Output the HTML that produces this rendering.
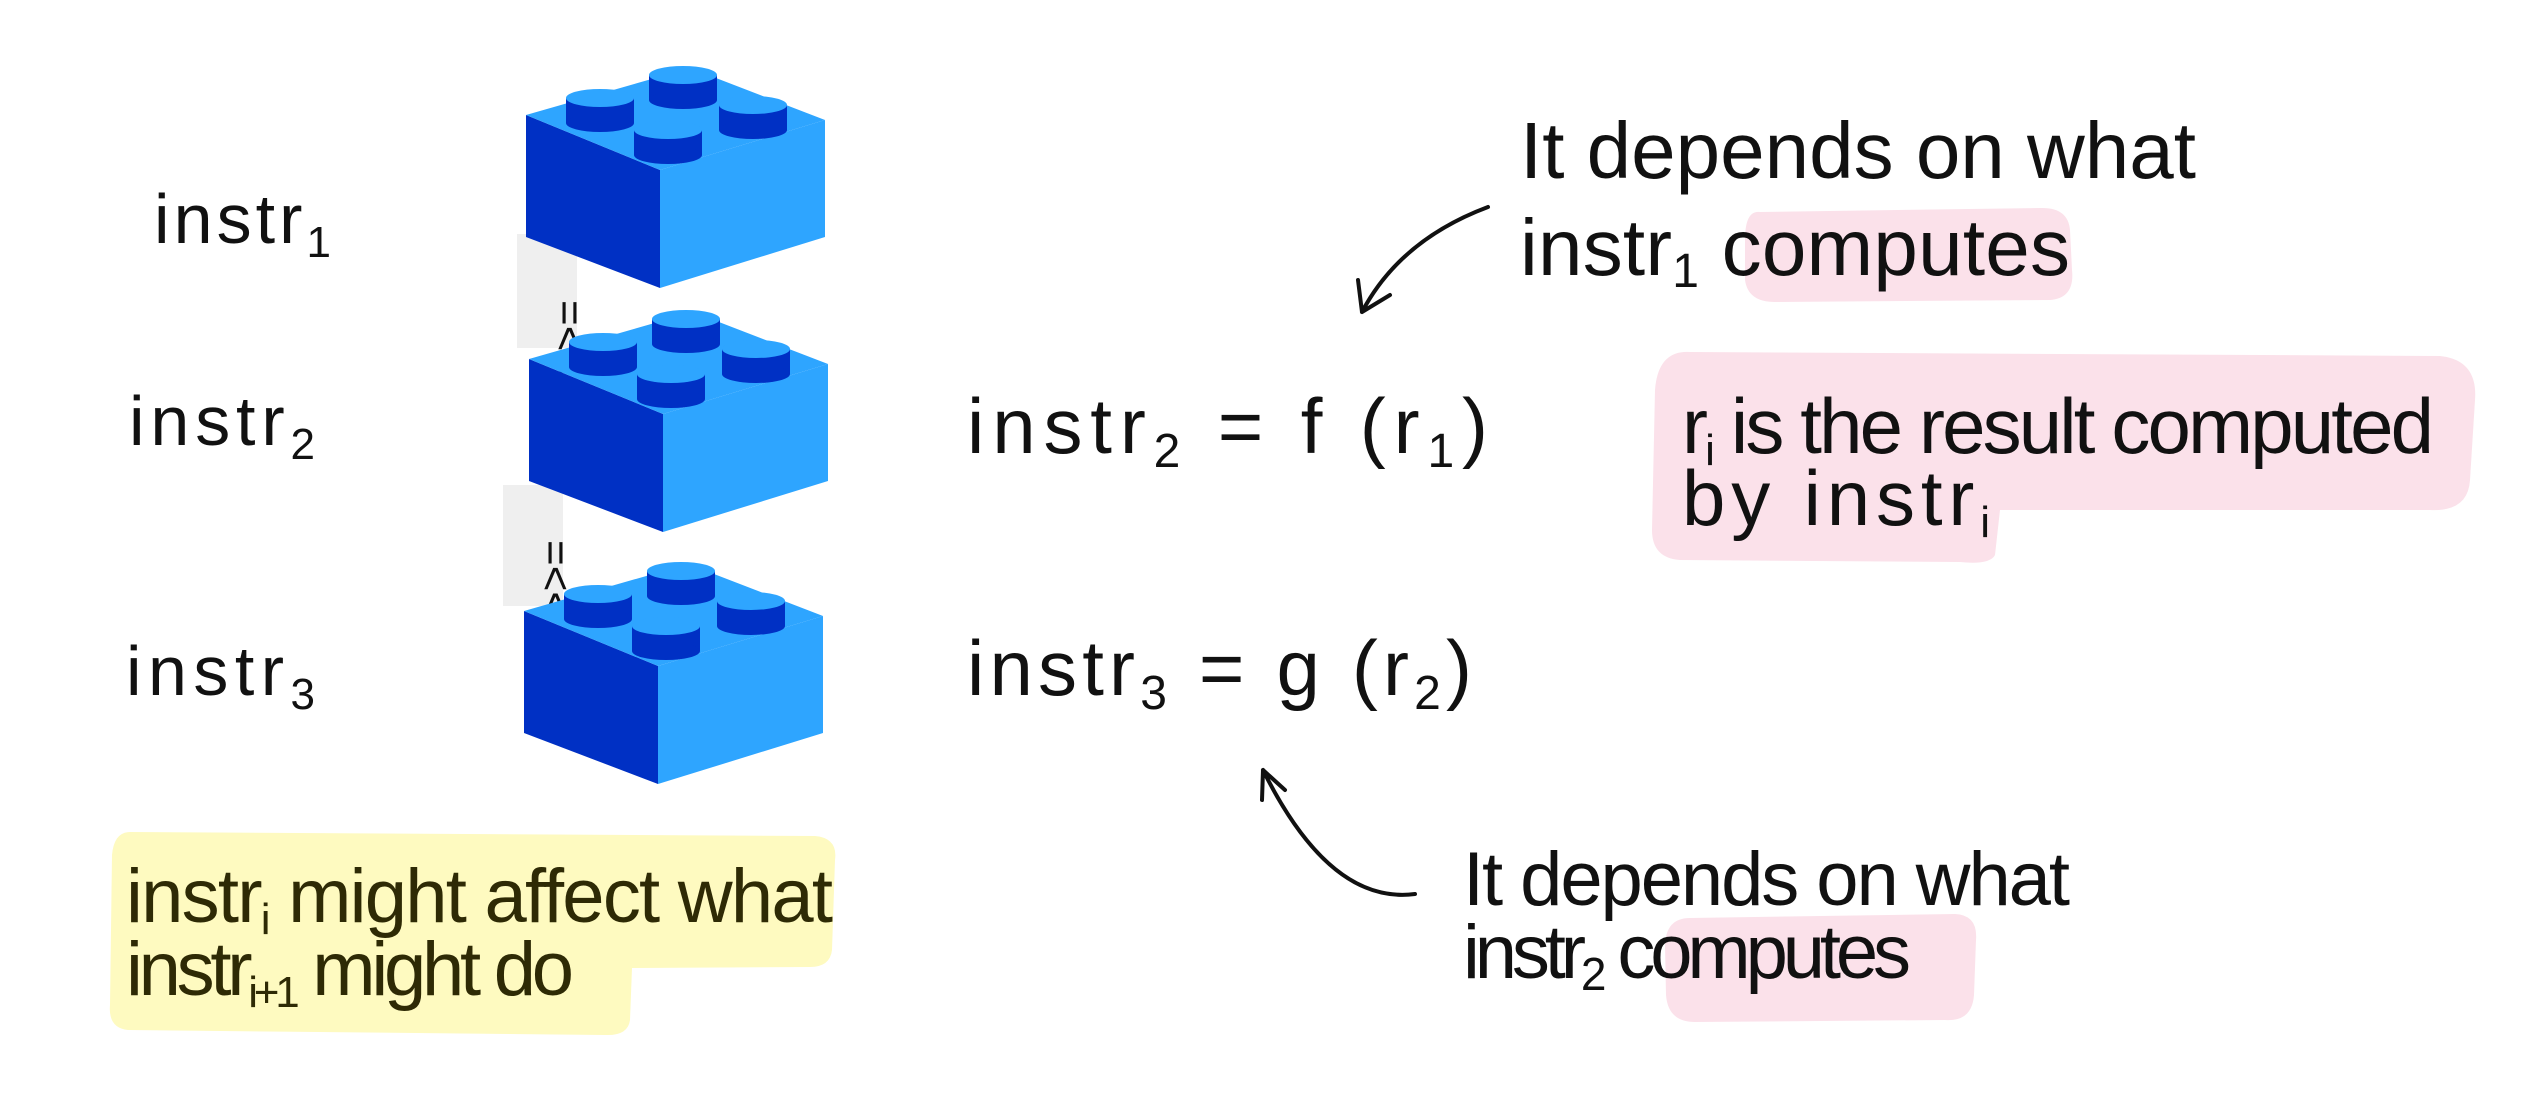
<!DOCTYPE html>
<html><head><meta charset="utf-8"><style>
html,body{margin:0;padding:0;background:#fff;}
svg{display:block;}
text{font-family:"Liberation Sans Narrow","Liberation Sans",sans-serif;fill:#111;}
</style></head><body>
<svg width="2522" height="1097" viewBox="0 0 2522 1097">
<defs>
<g id="brick">
  <polygon points="526,115 660,170 660,288 526,237" fill="#0030c4"/>
  <polygon points="660,170 825,120 825,237 660,288" fill="#2ea5ff"/>
  <polygon points="526,115 690,68 825,120 660,170" fill="#2ea5ff"/>
  <g fill="#0030c4">
    <rect x="566" y="98" width="68" height="25"/><ellipse cx="600" cy="123" rx="34" ry="9"/>
    <rect x="649" y="75" width="68" height="25"/><ellipse cx="683" cy="100" rx="34" ry="9"/>
    <rect x="719" y="105" width="68" height="25"/><ellipse cx="753" cy="130" rx="34" ry="9"/>
    <rect x="634" y="130" width="68" height="25"/><ellipse cx="668" cy="155" rx="34" ry="9"/>
  </g>
  <g fill="#2ea5ff">
    <ellipse cx="600" cy="98" rx="34" ry="9"/>
    <ellipse cx="683" cy="75" rx="34" ry="9"/>
    <ellipse cx="753" cy="105" rx="34" ry="9"/>
    <ellipse cx="668" cy="130" rx="34" ry="9"/>
  </g>
</g>
</defs>

<rect x="517" y="234" width="60" height="114" fill="#efefef"/>
<text x="0" y="0" font-size="44" transform="translate(555,300) rotate(90)">=&lt;&lt;</text>
<rect x="503" y="485" width="60" height="121" fill="#efefef"/>
<text x="0" y="0" font-size="44" transform="translate(541,540) rotate(90)">=&lt;&lt;</text>

<use href="#brick"/>
<use href="#brick" transform="translate(3,244)"/>
<use href="#brick" transform="translate(-2,496)"/>

<text x="154" y="243" font-size="70" textLength="177">instr<tspan font-size="44" dy="14">1</tspan></text>
<text x="129" y="445" font-size="70" textLength="186">instr<tspan font-size="44" dy="14">2</tspan></text>
<text x="126" y="695" font-size="70" textLength="189">instr<tspan font-size="44" dy="14">3</tspan></text>

<text x="967" y="453" font-size="78" textLength="521">instr<tspan font-size="48" dy="14">2</tspan><tspan dy="-14"> = f (r</tspan><tspan font-size="48" dy="14">1</tspan><tspan dy="-14">)</tspan></text>
<text x="967" y="695" font-size="78" textLength="505">instr<tspan font-size="48" dy="14">3</tspan><tspan dy="-14"> = g (r</tspan><tspan font-size="48" dy="14">2</tspan><tspan dy="-14">)</tspan></text>

<path d="M1760,212 Q1745,210 1745,240 L1745,280 Q1748,302 1775,302 L2050,300 Q2075,298 2072,270 L2070,230 Q2068,207 2040,208 Z" fill="#fbe1ea"/>
<text x="1520" y="178" font-size="80" textLength="676">It depends on what</text>
<text x="1520" y="275" font-size="80" textLength="550">instr<tspan font-size="48" dy="12">1</tspan><tspan dy="-12">  computes</tspan></text>
<path d="M1488,207 Q1400,240 1362,312 M1362,312 L1358,280 M1362,312 L1390,295" fill="none" stroke="#111" stroke-width="4" stroke-linecap="round"/>

<path d="M1690,352 L2440,356 Q2478,360 2475,400 L2470,480 Q2468,512 2430,510 L2000,510 L1995,555 Q1990,565 1960,562 L1680,560 Q1652,558 1652,530 L1655,390 Q1658,350 1690,352 Z" fill="#fbe1ea"/>
<text x="1682" y="453" font-size="78" textLength="752">r<tspan font-size="44" dy="12">i</tspan><tspan dy="-12"> is the result computed</tspan></text>
<text x="1682" y="525" font-size="78" textLength="308">by instr<tspan font-size="44" dy="12">i</tspan></text>

<path d="M130,832 L815,836 Q838,838 835,860 L832,950 Q830,967 810,967 L632,968 L630,1020 Q628,1036 605,1035 L128,1030 Q108,1028 110,1005 L112,855 Q114,832 130,832 Z" fill="#fefac0"/>
<text x="126" y="922" font-size="76" fill="#2e2a05" style="fill:#2e2a05" textLength="707">instr<tspan font-size="44" dy="12">i</tspan><tspan dy="-12"> might affect what</tspan></text>
<text x="126" y="995" font-size="76" style="fill:#2e2a05" textLength="448">instr<tspan font-size="44" dy="12">i+1</tspan><tspan dy="-12"> might do</tspan></text>

<path d="M1690,918 L1955,914 Q1978,915 1976,940 L1974,995 Q1972,1022 1945,1020 L1695,1022 Q1668,1022 1666,995 L1665,945 Q1666,918 1690,918 Z" fill="#fbe1ea"/>
<text x="1463" y="905" font-size="76" textLength="607">It depends on what</text>
<text x="1463" y="978" font-size="76" textLength="448">instr<tspan font-size="46" dy="12">2</tspan><tspan dy="-12">  computes</tspan></text>
<path d="M1415,894 Q1330,905 1263,770 M1263,770 L1262,800 M1263,770 L1285,790" fill="none" stroke="#111" stroke-width="4" stroke-linecap="round"/>
</svg>
</body></html>
